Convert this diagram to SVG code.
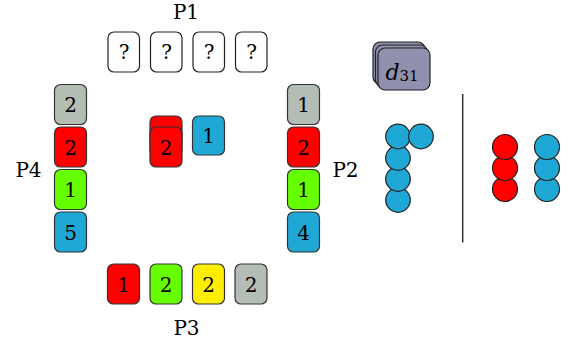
<svg xmlns="http://www.w3.org/2000/svg" width="572" height="347" viewBox="0 0 572 347">
<style>
text{font-family:'DejaVu Serif','Liberation Serif','Times New Roman',serif;font-size:20px;fill:#000;text-anchor:middle}
.c{stroke:#333;stroke-width:1.2}
.q{fill:#fff;stroke:#222;stroke-width:1.2}
.g{fill:#b4bdb4}.r{fill:#ff0000}.gr{fill:#66ff00}.y{fill:#ffee00}.b{fill:#1fa8d6}
.d{fill:#8e90ae;stroke:#222;stroke-width:1.2}
.dot{stroke:#222;stroke-width:1.2}
</style>
<defs>
<clipPath id="top"><rect x="140" y="100" width="50" height="27.5"/></clipPath>
</defs>
<rect width="572" height="347" fill="#fff"/>
<g id="labels">
<text x="186" y="19">P1</text>
<text x="28.5" y="177">P4</text>
<text x="345.5" y="177">P2</text>
<text x="186.5" y="335">P3</text>
</g>
<g id="P1">
<rect class="q" x="108" y="32" width="31.5" height="40" rx="6"/><text x="124" y="59">?</text>
<rect class="q" x="150.5" y="32" width="31.5" height="40" rx="6"/><text x="166.5" y="59">?</text>
<rect class="q" x="193" y="32" width="31.5" height="40" rx="6"/><text x="209" y="59">?</text>
<rect class="q" x="235.5" y="32" width="31.5" height="40" rx="6"/><text x="251.5" y="59">?</text>
</g>
<g id="P4">
<rect class="c g" x="54.5" y="84.5" width="32" height="40" rx="6"/><text x="70.5" y="112">2</text>
<rect class="c r" x="54.5" y="127" width="32" height="40" rx="6"/><text x="70.5" y="154.5">2</text>
<rect class="c gr" x="54.5" y="169.5" width="32" height="40" rx="6"/><text x="70.5" y="197">1</text>
<rect class="c b" x="54.5" y="212" width="32" height="40" rx="6"/><text x="70.5" y="239.5">5</text>
</g>
<g id="P2">
<rect class="c g" x="287.5" y="84.5" width="32" height="40" rx="6"/><text x="303.5" y="112">1</text>
<rect class="c r" x="287.5" y="127" width="32" height="40" rx="6"/><text x="303.5" y="154.5">2</text>
<rect class="c gr" x="287.5" y="169.5" width="32" height="40" rx="6"/><text x="303.5" y="197">1</text>
<rect class="c b" x="287.5" y="212" width="32" height="40" rx="6"/><text x="303.5" y="239.5">4</text>
</g>
<g id="P3">
<rect class="c r" x="107.5" y="264" width="32" height="40" rx="6"/><text x="123.5" y="291.5">1</text>
<rect class="c gr" x="150" y="264" width="32" height="40" rx="6"/><text x="166" y="291.5">2</text>
<rect class="c y" x="192.5" y="264" width="32" height="40" rx="6"/><text x="208.5" y="291.5">2</text>
<rect class="c g" x="235" y="264" width="32" height="40" rx="6"/><text x="251" y="291.5">2</text>
</g>
<g id="center">
<rect class="c r" x="150" y="116" width="32" height="40" rx="6"/><text x="166" y="143.5" clip-path="url(#top)">1</text>
<rect class="c r" x="150" y="127" width="32" height="40" rx="6"/><text x="166" y="154.5">2</text>
<rect class="c b" x="192.5" y="116" width="32" height="39" rx="6"/><text x="208.5" y="143">1</text>
</g>
<g id="deck">
<rect class="d" x="373" y="42" width="52" height="42" rx="7"/>
<rect class="d" x="375.5" y="45" width="52" height="42" rx="7"/>
<rect class="d" x="378" y="48" width="52" height="42" rx="7"/>
<text x="402" y="80" style="font-size:22px"><tspan font-style="italic">d</tspan><tspan style="font-size:15px" dy="1">31</tspan></text>
</g>
<g id="blueL">
<circle class="dot b" cx="398" cy="200" r="12.3"/>
<circle class="dot b" cx="398" cy="179" r="12.3"/>
<circle class="dot b" cx="398" cy="158" r="12.3"/>
<circle class="dot b" cx="398" cy="136.5" r="12.3"/>
<circle class="dot b" cx="421" cy="136.5" r="12.3"/>
</g>
<g id="connectors">
<line x1="462.7" y1="94" x2="462.7" y2="242.5" stroke="#333" stroke-width="1.5"/>
</g>
<g id="pairs">
<circle class="dot r" cx="505" cy="189" r="12.5"/>
<circle class="dot r" cx="505" cy="168" r="12.5"/>
<circle class="dot r" cx="505" cy="147" r="12.5"/>
<circle class="dot b" cx="547" cy="189" r="12.5"/>
<circle class="dot b" cx="547" cy="168" r="12.5"/>
<circle class="dot b" cx="547" cy="147" r="12.5"/>
</g>
</svg>
